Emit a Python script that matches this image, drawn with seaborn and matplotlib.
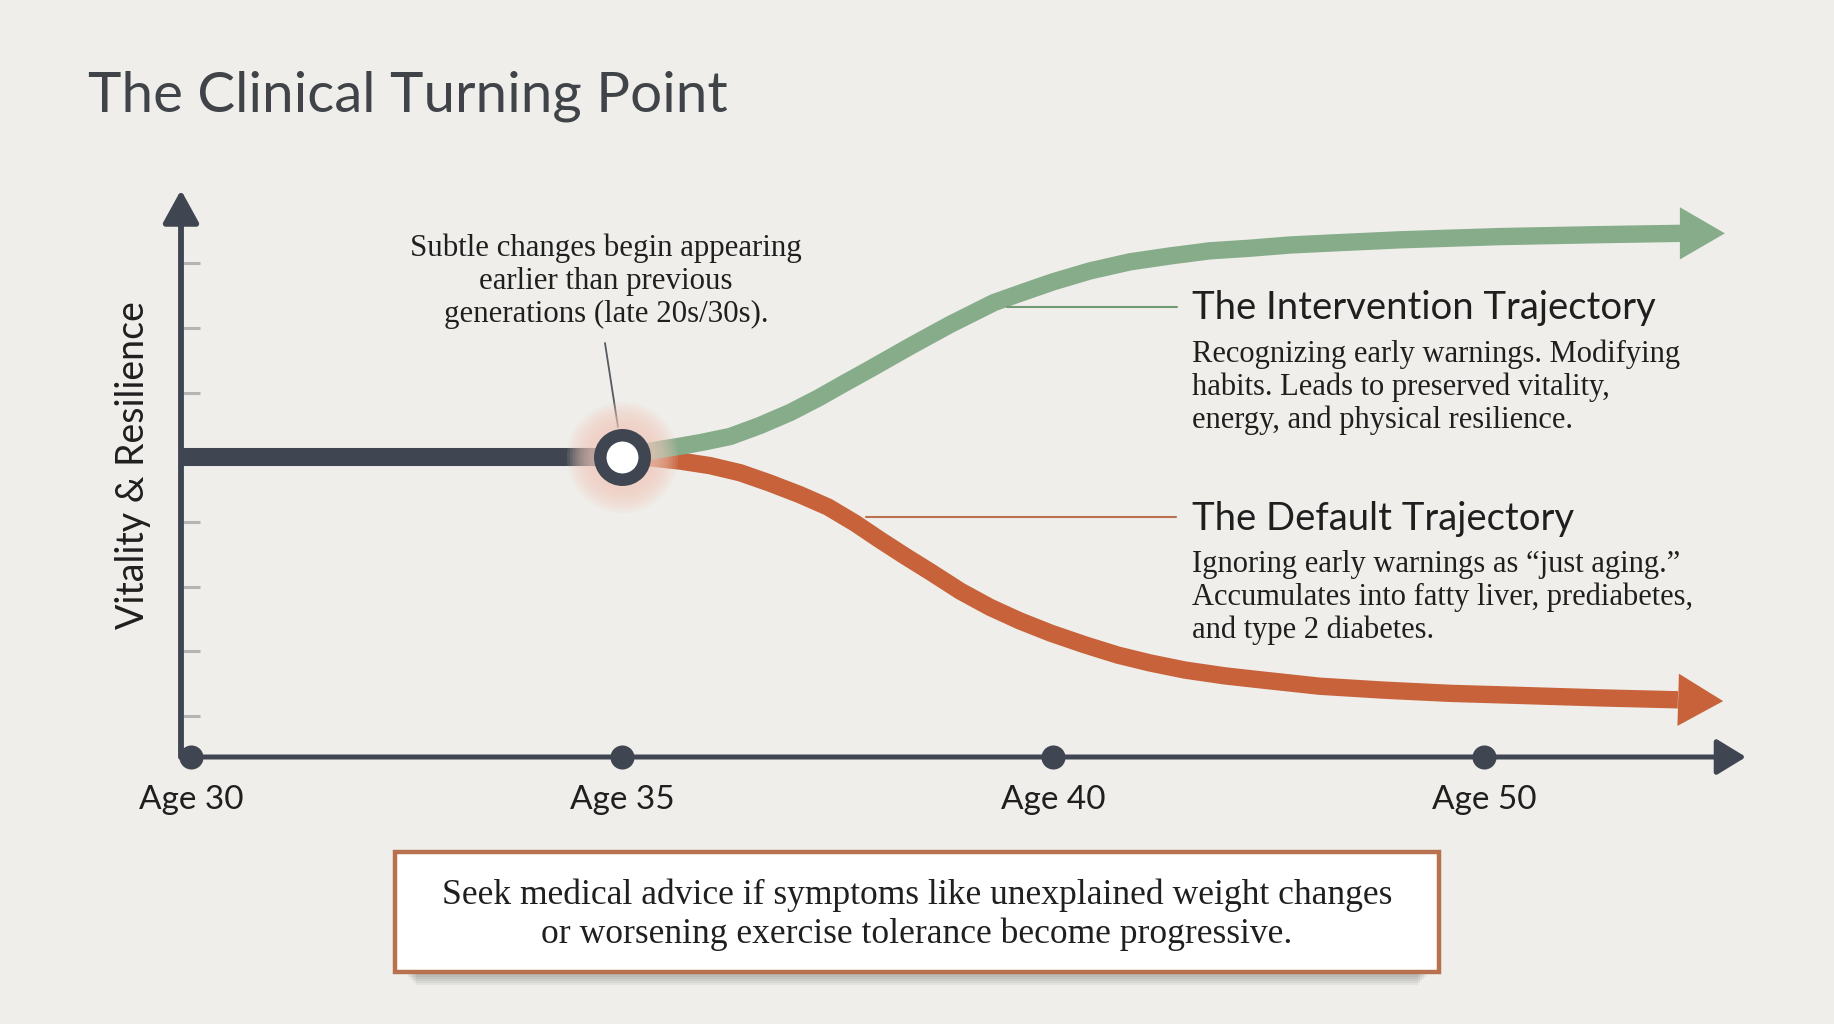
import seaborn as sns
import matplotlib.pyplot as plt
from matplotlib.patches import Rectangle

# --- data ---
age_labels = ["Age 30", "Age 35", "Age 40", "Age 50"]
age_pos = [0, 1, 2, 3]
vitality_ticks = [10, 20, 30, 40, 50, 60, 70, 80]

baseline_x = [-0.023, 1.0]
baseline_y = [50, 50]

green_x = [1.000, 1.042, 1.088, 1.135, 1.186, 1.251, 1.320, 1.390, 1.457, 1.510,
           1.575, 1.673, 1.761, 1.863, 1.935, 2.000, 2.086, 2.179, 2.271, 2.364,
           2.457, 2.550, 2.643, 2.805, 3.037, 3.269, 3.455, 3.559]
green_y = [50.2, 50.6, 51.2, 51.7, 52.3, 53.2, 54.9, 56.9, 59.2, 61.2,
           63.6, 67.3, 70.5, 73.9, 75.6, 77.1, 78.8, 80.2, 81.1, 81.9,
           82.3, 82.8, 83.1, 83.6, 84.1, 84.4, 84.6, 84.6]

orange_x = [1.000, 1.065, 1.135, 1.204, 1.274, 1.343, 1.413, 1.478, 1.541, 1.599,
            1.657, 1.715, 1.785, 1.854, 1.923, 1.995, 2.074, 2.151, 2.225, 2.306,
            2.399, 2.480, 2.619, 2.766, 2.921, 3.072, 3.269, 3.450, 3.555]
orange_y = [50.2, 49.9, 49.4, 48.7, 47.6, 46.0, 44.2, 42.3, 39.8, 37.2,
            34.7, 32.3, 29.3, 26.8, 24.7, 22.8, 21.0, 19.4, 18.2, 17.1,
            16.2, 15.6, 14.6, 14.0, 13.5, 13.2, 12.8, 12.5, 12.3]

turn_x, turn_y = 1.0, 50

title = "The Clinical Turning Point"
ylabel = "Vitality & Resilience"
note_lines = ["Subtle changes begin appearing", "earlier than previous",
              "generations (late 20s/30s)."]
interv_head = "The Intervention Trajectory"
interv_lines = ["Recognizing early warnings. Modifying", "habits. Leads to preserved vitality,",
                "energy, and physical resilience."]
default_head = "The Default Trajectory"
default_lines = ["Ignoring early warnings as \u201cjust aging.\u201d",
                 "Accumulates into fatty liver, prediabetes,", "and type 2 diabetes."]
advice_lines = ["Seek medical advice if symptoms like unexplained weight changes",
                "or worsening exercise tolerance become progressive."]

# --- colours ---
BG = "#efeeea"
DARK = "#3f4651"
GREEN = "#86ac8a"
ORANGE = "#c8623a"
INK = "#1f1f1f"

sns.set_theme(style="white", rc={"axes.facecolor": BG, "figure.facecolor": BG})
SANS = ["Lato", "DejaVu Sans"]
SERIF = ["Liberation Serif", "DejaVu Serif"]
plt.rcParams["font.family"] = SANS

W, H = 1834, 1024
def fx(px): return px / W
def fy(py): return 1 - py / H

fig = plt.figure(figsize=(W / 100, H / 100), dpi=100)
ax = fig.add_axes([fx(181), fy(757), (1746 - 181) / W, (757 - 190) / H])
ax.set_xlim(-0.0232, 3.608)
ax.set_ylim(3.66, 91.3)
for s in ax.spines.values():
    s.set_visible(False)

# axes with arrow heads
ax.annotate("", xy=(0, 1), xytext=(0, 0), xycoords="axes fraction",
            arrowprops=dict(arrowstyle="-|>,head_length=1.0,head_width=0.55",
                            mutation_scale=20, lw=4.2, color=DARK, shrinkA=0, shrinkB=0))
ax.annotate("", xy=(1, 0), xytext=(0, 0), xycoords="axes fraction",
            arrowprops=dict(arrowstyle="-|>,head_length=0.9,head_width=0.55",
                            mutation_scale=20, lw=3.6, color=DARK, shrinkA=0, shrinkB=0))

ax.set_yticks(vitality_ticks)
ax.tick_params(axis="y", direction="in", length=14, width=2.2, color="#b5b5b3",
               labelleft=False, left=True)
ax.set_xticks(age_pos, labels=age_labels)
ax.tick_params(axis="x", length=0, pad=20, labelsize=24, labelcolor=INK)
ax.set_ylabel(ylabel, fontsize=27, color=INK)
ax.yaxis.set_label_coords(-0.019, 0.515)

ax.scatter(age_pos, [ax.get_ylim()[0]] * len(age_pos), s=300, color=DARK,
           zorder=5, clip_on=False, linewidths=0)

# trajectories
sns.lineplot(x=baseline_x, y=baseline_y, ax=ax, color=DARK, lw=13,
             solid_capstyle="butt", sort=False, estimator=None)
sns.lineplot(x=orange_x[:-1], y=orange_y[:-1], ax=ax, color=ORANGE, lw=12.5,
             solid_capstyle="butt", solid_joinstyle="round", sort=False, estimator=None)
sns.lineplot(x=green_x[:-1], y=green_y[:-1], ax=ax, color=GREEN, lw=12.5,
             solid_capstyle="butt", solid_joinstyle="round", sort=False, estimator=None)
for xs, ys, c in [(green_x, green_y, GREEN), (orange_x, orange_y, ORANGE)]:
    ax.annotate("", xy=(xs[-1], ys[-1]), xytext=(xs[-2], ys[-2]),
                arrowprops=dict(arrowstyle="-|>,head_length=0.81,head_width=0.47",
                                mutation_scale=40, lw=0, color=c, shrinkA=0, shrinkB=0))

# turning point marker with soft glow
for size in range(80, 44, -4):
    ax.plot(turn_x, turn_y, "o", ms=size, color="#efcabd", alpha=0.13, mew=0, zorder=6)
ax.plot(turn_x, turn_y, "o", ms=32, mfc="white", mec=DARK, mew=9, zorder=7)

# connectors
ax.plot([1.893, 2.288], [73.2, 73.2], color="#6f9a74", lw=1.5, zorder=3)
ax.plot([1.566, 2.285], [40.8, 40.8], color="#b8704f", lw=1.5, zorder=3)
ax.plot([(605 - 191) / 431, (618 - 191) / 431], [10 + (716 - 343) / 6.47, 10 + (716 - 427) / 6.47],
        color="#555a60", lw=1.3, zorder=4)

# texts
fig.text(fx(88), fy(111), title, fontsize=40.7, color="#404449", family=SANS, va="baseline")

def lines(x, y0, rows, step, **kw):
    for i, r in enumerate(rows):
        fig.text(fx(x), fy(y0 + i * step), r, va="baseline", family=SERIF, color=INK, **kw)

lines(606, 256, note_lines, 33, fontsize=22.2, ha="center")
fig.text(fx(1192), fy(319), interv_head, fontsize=27.5, color=INK, family=SANS, va="baseline")
lines(1192, 362, interv_lines, 33, fontsize=22)
fig.text(fx(1192), fy(530), default_head, fontsize=27.5, color=INK, family=SANS, va="baseline")
lines(1192, 572, default_lines, 33, fontsize=22)

# advice box with shadow
for i in range(8):
    fig.add_artist(Rectangle((fx(402 + 2 * i), fy(970 + 2.2 * i)), (1030 - 4 * i) / W, 16 / H,
                             transform=fig.transFigure, facecolor="#4a4a4a", alpha=0.07,
                             lw=0, zorder=1))
fig.add_artist(Rectangle((fx(395), fy(972)), (1439 - 395) / W, (972 - 852) / H,
                         transform=fig.transFigure, facecolor="white", edgecolor="#b8714f",
                         lw=3.2, zorder=2))
for i, r in enumerate(advice_lines):
    fig.text(fx(917), fy(904 + i * 39), r, ha="center", va="baseline", family=SERIF,
             fontsize=25.6, color=INK, zorder=3)

fig.savefig("out.png", dpi=100, facecolor=BG)
